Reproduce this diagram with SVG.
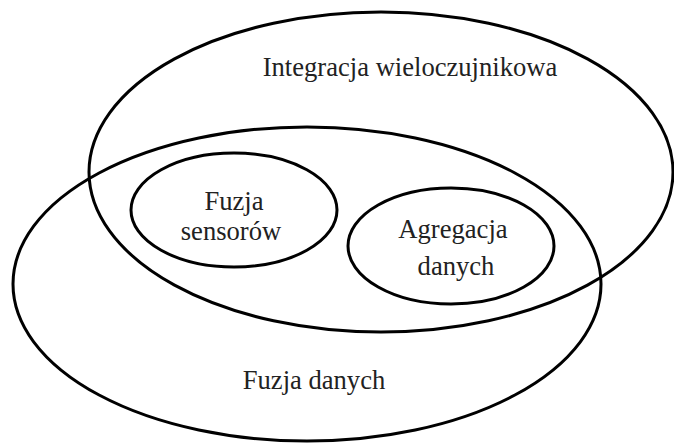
<svg xmlns="http://www.w3.org/2000/svg" width="674" height="444" viewBox="0 0 674 444">
<style>
.set{fill:none;stroke:#000;stroke-width:3}
.lbl{font-family:"Liberation Serif","DejaVu Serif",serif;font-size:26.6px;fill:#222;text-anchor:middle}
</style>
<rect width="674" height="444" fill="#fff"/>
<g id="integracja">
<ellipse class="set" cx="381" cy="172" rx="292" ry="160"/>
<text class="lbl" x="410" y="76">Integracja wieloczujnikowa</text>
</g>
<g id="fuzja-danych">
<ellipse class="set" cx="307" cy="284" rx="294" ry="157"/>
<text class="lbl" x="314" y="389">Fuzja danych</text>
</g>
<g id="fuzja-sensorow">
<ellipse class="set" cx="234" cy="210" rx="103" ry="57"/>
<text class="lbl" x="234" y="210">Fuzja</text>
<text class="lbl" x="231" y="240">sensorów</text>
</g>
<g id="agregacja">
<ellipse class="set" cx="451" cy="246" rx="103" ry="58"/>
<text class="lbl" x="453" y="238">Agregacja</text>
<text class="lbl" x="456" y="275">danych</text>
</g>
<g id="connectors"/>
</svg>
